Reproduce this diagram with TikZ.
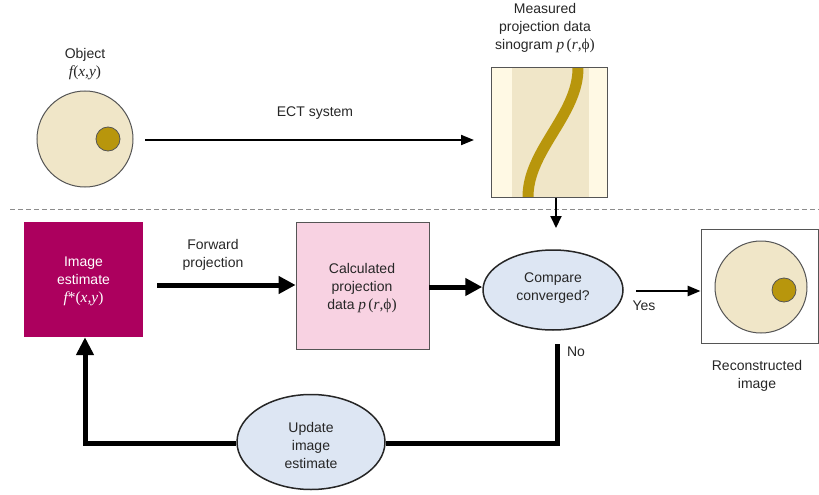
\documentclass[tikz,border=0pt]{standalone}
\usepackage{fontspec}
\setmainfont{Liberation Sans}
\newfontfamily\serifup{Liberation Serif}[Scale=1.1]
\usetikzlibrary{arrows.meta,shapes.geometric}
\definecolor{cream}{HTML}{F0E6C8}
\definecolor{paleCream}{HTML}{FFF9E4}
\definecolor{gold}{HTML}{B8960C}
\definecolor{edge}{HTML}{555555}
\definecolor{magentaBox}{HTML}{AC005E}
\definecolor{pinkBox}{HTML}{F8D2E2}
\definecolor{paleBlue}{HTML}{DDE6F3}
\newcommand{\vx}[1]{{\serifup\itshape #1}}
\newcommand{\vu}[1]{{\serifup #1}}
\newcommand{\prphi}{\vx{p}\,\vu{(}\vx{r}\vu{,ϕ)}}
\tikzset{
  lbl/.style={align=center, font=\fontsize{14}{18}\selectfont, text=black!85, inner sep=0pt},
  thinarrow/.style={line width=2pt, -{Triangle[length=13pt,width=10pt]}},
  thickarrow/.style={line width=5pt, -{Triangle[length=17pt,width=17pt]}},
  thickline/.style={line width=5pt},
  oval/.style={ellipse, draw=black!85, line width=1.5pt, fill=paleBlue, inner sep=0pt},
}
\begin{document}
\begin{tikzpicture}[x=1pt,y=-1pt]
\useasboundingbox (0,0) rectangle (819,495);

% object
\node[lbl] (objlbl) at (85,64) {Object\\\vx{f}\vu{(}\vx{x,y}\vu{)}};
\node[circle, draw=edge, line width=1pt, fill=cream, minimum size=96pt, inner sep=0pt] (obj) at (85,139) {};
\node[circle, draw=edge, line width=0.8pt, fill=gold, minimum size=24pt, inner sep=0pt] (objdot) at (108,139) {};

% sinogram
\node[draw=edge, line width=1pt, fill=paleCream, minimum width=116pt, minimum height=129pt, inner sep=0pt] (sino) at (549,132.5) {};
\fill[cream] (512,68.5) rectangle (589,196.5);
\begin{scope}
  \clip (491,68) rectangle (607,197);
  \draw[gold, line width=11pt, domain=60:205, samples=60, smooth] plot ({553+25*cos(1.3953*(\x-68))}, \x);
\end{scope}
\draw[edge, line width=1pt] (491,68) rectangle (607,197);
\node[lbl] (sinolbl) at (545,28) {Measured\\projection data\\sinogram \prphi};

% acquisition arrow
\coordinate (ectstart) at (145,140);
\coordinate (ectend) at (474,140);
\draw[thinarrow] (ectstart) -- (ectend);
\node[lbl] (ectlbl) at (315,113) {ECT system};

% separator
\coordinate (sepL) at (10,209);
\coordinate (sepR) at (819,209);
\draw[black!45, line width=1pt, dash pattern=on 5pt off 3pt] (sepL) -- (sepR);

% image estimate
\node[fill=magentaBox, minimum width=119pt, minimum height=115pt, inner sep=0pt] (est) at (83.5,279.5) {};
\node[lbl, text=white] (esttxt) at (83.5,281) {Image\\estimate\\\vx{f}\vu{*(}\vx{x,y}\vu{)}};

% calculated projection
\node[draw=edge, line width=0.8pt, fill=pinkBox, minimum width=133pt, minimum height=127pt, inner sep=0pt] (calc) at (362.5,285.5) {};
\node[lbl] (calctxt) at (362,288) {Calculated\\projection\\data \prphi};

% compare
\node[oval, minimum width=140pt, minimum height=80pt] (cmp) at (553,290) {};
\node[lbl] (cmptxt) at (553,288) {Compare\\converged?};

% reconstructed image
\node[draw=edge, line width=0.8pt, fill=white, minimum width=117pt, minimum height=114pt, inner sep=0pt] (rec) at (759.5,286) {};
\node[circle, draw=edge, line width=1pt, fill=cream, minimum size=92pt, inner sep=0pt] (recc) at (761,287) {};
\node[circle, draw=edge, line width=0.8pt, fill=gold, minimum size=24pt, inner sep=0pt] (recdot) at (784,290) {};
\node[lbl] (reclbl) at (757,376) {Reconstructed\\image};

% update
\node[oval, minimum width=148pt, minimum height=95pt] (upd) at (311,442) {};
\node[lbl] (updtxt) at (311,445) {Update\\image\\estimate};

% connectors
\draw[line width=2pt, -{Triangle[length=12pt,width=11pt]}] (sino.south -| 556,0) -- (556,228);
\draw[thickarrow] (157,285) -- (calc.west |- 0,285);
\node[lbl] (fwdlbl) at (213,255) {Forward\\projection};
\draw[thickarrow] (calc.east |- 0,287) -- (cmp.west |- 0,287);
\draw[thinarrow, line width=2.5pt] (636,291) -- (rec.west |- 0,291);
\node[lbl] (yes) at (644,306) {Yes};
\coordinate (nostart) at (557,344);
\coordinate (nocorner) at (557,443);
\coordinate (upcorner) at (85,443);
\draw[thickline] (nostart) -- (nocorner) -- (upd.east |- nocorner);
\node[lbl] (no) at (576,352) {No};
\draw[thickline, -{Triangle[length=18pt,width=17pt]}] (upd.west |- upcorner) -- (upcorner) -- (est.south -| upcorner);
\end{tikzpicture}
\end{document}
